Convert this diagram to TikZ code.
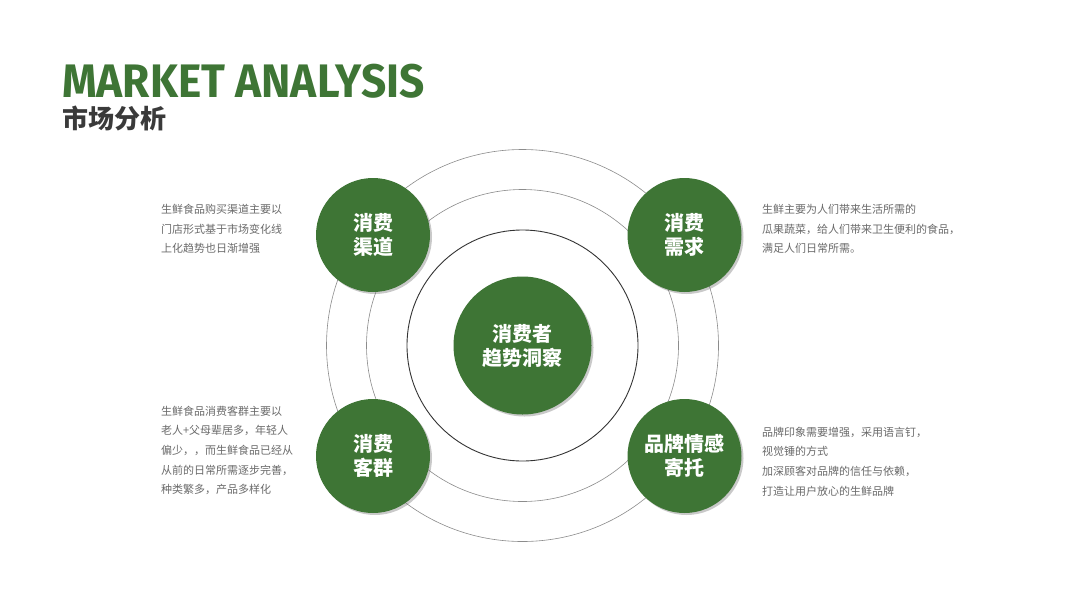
\documentclass[tikz,border=0pt]{standalone}
\usepackage{fontspec}
\setmainfont{Fira Sans}
\newfontfamily\cjk{Noto Sans CJK SC}
\usetikzlibrary{shadows,positioning}
\definecolor{leaf}{HTML}{3E7535}
\definecolor{notegray}{HTML}{6A6A6A}
\definecolor{heading}{HTML}{3A3A3A}

\begin{document}
\begin{tikzpicture}[x=1pt,y=-1pt,
  every node/.append style={inner sep=0pt,outer sep=0pt},
  ring/.style={draw=black!45,line width=0.6pt},
  innerring/.style={draw=black!80,line width=0.9pt}]
  \tikzstyle{ball} = [circle,fill=leaf,text=white,align=center,
    font=\cjk\bfseries\fontsize{20}{24}\selectfont,
    drop shadow={opacity=0.35,shadow xshift=2pt,shadow yshift=-2pt,fill=black!60}]
  \tikzstyle{note} = [align=left,text=notegray,anchor=west,
    font=\cjk\fontsize{11}{19.7}\selectfont]
  \fill[white] (0,0) rectangle (1067,600);
  \useasboundingbox (0,0) rectangle (1067,600);
  % title
  \node (title) [anchor=base west,text=leaf,text depth=0pt,font=\bfseries\fontsize{47}{40}\selectfont,xscale=0.94] at (62,97) {MARKET ANALYSIS};
  \node (subtitle) [anchor=base west,text=heading,text height=21pt,text depth=2pt,font=\cjk\bfseries\fontsize{26}{26}\selectfont] at (62,128.5) {市场分析};
  % rings
  \coordinate (hub) at (522.5,345.5);
  \draw[ring] (hub) circle[radius=196pt];
  \draw[ring] (hub) circle[radius=156pt];
  \draw[innerring] (hub) circle[radius=115.5pt];
  % circles
  \node (core) [ball,minimum size=138pt] at (hub) {消费者\\趋势洞察};
  \node (channel) [ball,minimum size=114pt] at (373,235) {消费\\渠道};
  \node (demand) [ball,minimum size=114pt] at (684.5,235) {消费\\需求};
  \node (crowd) [ball,minimum size=114pt] at (373,456) {消费\\客群};
  \node (brand) [ball,minimum size=114pt] at (684.5,456) {品牌情感\\寄托};
  % notes
  \node (channelnote) [note] at (161,229) {生鲜食品购买渠道主要以\\门店形式基于市场变化线\\上化趋势也日渐增强};
  \node (demandnote) [note] at (762,229) {生鲜主要为人们带来生活所需的\\瓜果蔬菜，给人们带来卫生便利的食品，\\满足人们日常所需。};
  \node (crowdnote) [note] at (161,450.5) {生鲜食品消费客群主要以\\老人+父母辈居多，年轻人\\偏少，，而生鲜食品已经从\\从前的日常所需逐步完善，\\种类繁多，产品多样化};
  \node (brandnote) [note] at (762,461.5) {品牌印象需要增强，采用语言钉，\\视觉锤的方式\\加深顾客对品牌的信任与依赖，\\打造让用户放心的生鲜品牌};
\end{tikzpicture}
\end{document}
